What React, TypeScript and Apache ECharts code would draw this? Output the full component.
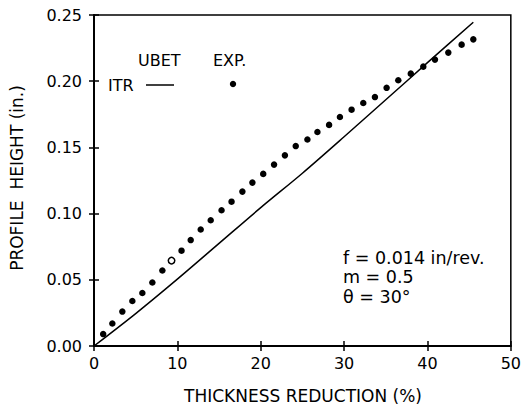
import React, { useEffect, useRef } from "react";
import * as echarts from "echarts";

const expX = [1.1, 2.2, 3.4, 4.6, 5.8, 7.0, 8.2, 9.3, 10.5, 11.6, 12.8, 14.0, 15.3, 16.5, 17.8, 19.0, 20.3, 21.6, 22.9, 24.2, 25.6, 26.8, 28.2, 29.5, 30.9, 32.3, 33.7, 35.1, 36.5, 38.0, 39.5, 40.9, 42.5, 44.1, 45.5];
const expY = [0.009, 0.017, 0.026, 0.034, 0.040, 0.048, 0.057, 0.0645, 0.072, 0.080, 0.088, 0.095, 0.1025, 0.109, 0.1166, 0.1234, 0.130, 0.137, 0.144, 0.151, 0.156, 0.1616, 0.167, 0.173, 0.1785, 0.1835, 0.188, 0.195, 0.2007, 0.2057, 0.211, 0.2163, 0.2216, 0.2276, 0.2316];
const hollowIndex = 7;

const ubetX = [0, 5, 10, 15, 20, 25, 30, 35, 40, 45.5];
const ubetY = [0, 0.0245, 0.0505, 0.0775, 0.1045, 0.1305, 0.158, 0.186, 0.214, 0.2445];

const xTitle = "THICKNESS REDUCTION (%)";
const yTitle = "PROFILE  HEIGHT (in.)";
const noteLines = ["f = 0.014 in/rev.", "m = 0.5", "θ = 30°"];

const FONT = "DejaVu Sans";

export default function App() {
  const ref = useRef<HTMLDivElement>(null);
  useEffect(() => {
    if (!ref.current) return;
    const chart = echarts.init(ref.current, undefined, { renderer: "svg" });
    const axisX = (main: boolean) => ({
      type: "value",
      min: 0,
      max: 50,
      interval: 10,
      position: "bottom",
      splitLine: { show: false },
      axisLine: { show: main, onZero: false, lineStyle: { color: "#000", width: 2 } },
      axisTick: { show: true, inside: !main, length: 5, lineStyle: { color: "#000", width: 1.5 } },
      axisLabel: {
        show: main,
        margin: 9,
        color: "#000",
        fontSize: 16,
        fontFamily: FONT,
      },
    });
    const axisY = (main: boolean) => ({
      type: "value",
      min: 0,
      max: 0.25,
      interval: 0.05,
      position: "left",
      splitLine: { show: false },
      axisLine: { show: main, onZero: false, lineStyle: { color: "#000", width: 2 } },
      axisTick: { show: true, inside: !main, length: 5, lineStyle: { color: "#000", width: 1.5 } },
      axisLabel: {
        show: main,
        margin: 12,
        color: "#000",
        fontSize: 16,
        fontFamily: FONT,
        formatter: (v: number) => v.toFixed(2),
      },
    });
    const expData = expX.map((x, i) =>
      i === hollowIndex
        ? { value: [x, expY[i]], itemStyle: { color: "#fff", borderColor: "#000", borderWidth: 1.5 } }
        : [x, expY[i]]
    );
    const rowY = [258, 277, 297];
    chart.setOption({
      animation: false,
      backgroundColor: "#fff",
      grid: {
        left: 94,
        right: 12,
        top: 15,
        bottom: 61,
        show: true,
        borderColor: "#000",
        borderWidth: 1.5,
        backgroundColor: "transparent",
      },
      xAxis: [axisX(true), axisX(false)],
      yAxis: [axisY(true), axisY(false)],
      series: [
        {
          type: "line",
          name: "UBET",
          data: ubetX.map((x, i) => [x, ubetY[i]]),
          showSymbol: false,
          smooth: 0.3,
          lineStyle: { color: "#000", width: 1.5 },
          xAxisIndex: 0,
          yAxisIndex: 0,
        },
        {
          type: "scatter",
          name: "EXP.",
          data: expData,
          symbol: "circle",
          symbolSize: 6.5,
          itemStyle: { color: "#000", opacity: 1 },
          xAxisIndex: 0,
          yAxisIndex: 0,
        },
      ],
      graphic: [
        {
          type: "text",
          x: 17,
          y: 178,
          rotation: Math.PI / 2,
          style: {
            text: yTitle,
            fill: "#000",
            font: `17px "${FONT}"`,
            align: "center",
            verticalAlign: "middle",
          },
        },
        {
          type: "text",
          x: 303,
          y: 396,
          style: {
            text: xTitle,
            fill: "#000",
            font: `17px "${FONT}"`,
            align: "center",
            verticalAlign: "middle",
          },
        },
        {
          type: "text",
          x: 138,
          y: 60,
          style: { text: "UBET", fill: "#000", font: `16px "${FONT}"`, align: "left", verticalAlign: "middle" },
        },
        {
          type: "text",
          x: 213,
          y: 60,
          style: { text: "EXP.", fill: "#000", font: `16px "${FONT}"`, align: "left", verticalAlign: "middle" },
        },
        {
          type: "text",
          x: 108,
          y: 85,
          style: { text: "ITR", fill: "#000", font: `16px "${FONT}"`, align: "left", verticalAlign: "middle" },
        },
        {
          type: "line",
          shape: { x1: 146, y1: 85, x2: 174, y2: 85 },
          style: { stroke: "#000", lineWidth: 1.5 },
        },
        {
          type: "circle",
          shape: { cx: 233, cy: 84, r: 3.2 },
          style: { fill: "#000" },
        },
        ...noteLines.map((t, i) => ({
          type: "text",
          x: 343,
          y: rowY[i],
          style: { text: t, fill: "#000", font: `17.5px "${FONT}"`, align: "left", verticalAlign: "middle" },
        })),
      ],
    });
    return () => chart.dispose();
  }, []);
  return (
    <div
      ref={ref}
      style={{ position: "absolute", left: 0, top: 0, width: 524, height: 407 }}
    />
  );
}
